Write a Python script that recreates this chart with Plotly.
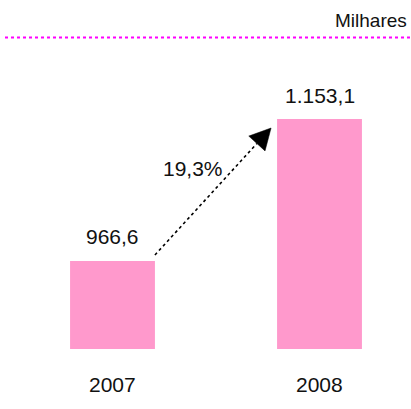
import plotly.graph_objects as go

# Data
years = ["2007", "2008"]
values = [966.6, 1153.1]
value_labels = ["966,6", "1.153,1"]
growth_label = "19,3%"
unit_label = "Milhares"

W, H = 411, 409
M_T, M_B = 60, 60
PLOT_H = H - M_T - M_B
X_RANGE = [-0.5435, 1.442]
Y_RANGE = [851.0, 1230.6]
BAR_W = 0.41
PINK = "#FF99CC"
FONT = "Liberation Sans, Arial, sans-serif"
TXT = "#111111"


def to_px(x, y):
    px = (x - X_RANGE[0]) / (X_RANGE[1] - X_RANGE[0]) * W
    py = M_T + (Y_RANGE[1] - y) / (Y_RANGE[1] - Y_RANGE[0]) * PLOT_H
    return px, py


def to_data(px, py):
    x = X_RANGE[0] + px / W * (X_RANGE[1] - X_RANGE[0])
    y = Y_RANGE[1] - (py - M_T) / PLOT_H * (Y_RANGE[1] - Y_RANGE[0])
    return x, y


fig = go.Figure(go.Bar(
    x=list(range(len(years))), y=values, width=BAR_W,
    marker=dict(color=PINK, line=dict(width=0)),
    hoverinfo="skip",
))

annotations = []
for i, (v, lab) in enumerate(zip(values, value_labels)):
    annotations.append(dict(x=i, y=v, text=lab, showarrow=False, xref="x", yref="y",
                            yanchor="middle", yshift=24, font=dict(size=21, color=TXT)))
for i, yr in enumerate(years):
    annotations.append(dict(x=i, y=Y_RANGE[0], text=yr, showarrow=False, xref="x", yref="y",
                            yanchor="middle", yshift=-35, font=dict(size=21, color=TXT)))

# Growth arrow between the bar tops (dotted shaft, solid head)
sx, sy = to_px(0 + BAR_W / 2, values[0])
sy -= 6
ex, ey = to_px(1 - BAR_W / 2, values[1])
ex -= 6
ey += 9
dx, dy = ex - sx, ey - sy
L = (dx ** 2 + dy ** 2) ** 0.5
ux, uy = dx / L, dy / L
head_len, head_w = 21, 22
bx, by = ex - ux * head_len, ey - uy * head_len
nx, ny = -uy, ux
p1 = to_data(ex, ey)
p2 = to_data(bx + nx * head_w / 2, by + ny * head_w / 2)
p3 = to_data(bx - nx * head_w / 2, by - ny * head_w / 2)
s0 = to_data(sx, sy)
s1 = to_data(bx, by)

shapes = [
    dict(type="line", xref="x", yref="y", x0=s0[0], y0=s0[1], x1=s1[0], y1=s1[1],
         line=dict(color="black", width=1.6, dash="dot")),
    dict(type="path", xref="x", yref="y",
         path=f"M {p1[0]},{p1[1]} L {p2[0]},{p2[1]} L {p3[0]},{p3[1]} Z",
         fillcolor="black", line=dict(color="black", width=0.5)),
    dict(type="line", xref="paper", yref="paper", x0=5 / W, x1=410 / W,
         y0=(H - M_B - 37.5) / PLOT_H, y1=(H - M_B - 37.5) / PLOT_H,
         line=dict(color="#FF00FF", width=2, dash="dot")),
]

gx, gy = to_data(193, 168.5)
annotations.append(dict(x=gx, y=gy, xref="x", yref="y", text=growth_label, showarrow=False,
                        font=dict(size=21, color=TXT)))
annotations.append(dict(x=409 / W, y=(H - M_B - 20.5) / PLOT_H, xref="paper", yref="paper",
                        text=unit_label, showarrow=False, xanchor="right", yanchor="middle",
                        font=dict(size=19, color=TXT)))

fig.update_layout(
    width=W, height=H,
    margin=dict(l=0, r=0, t=M_T, b=M_B),
    paper_bgcolor="white", plot_bgcolor="white",
    font=dict(family=FONT),
    showlegend=False,
    xaxis=dict(range=X_RANGE, visible=False),
    yaxis=dict(range=Y_RANGE, visible=False),
    shapes=shapes,
    annotations=annotations,
)

fig.write_html("out.html")
